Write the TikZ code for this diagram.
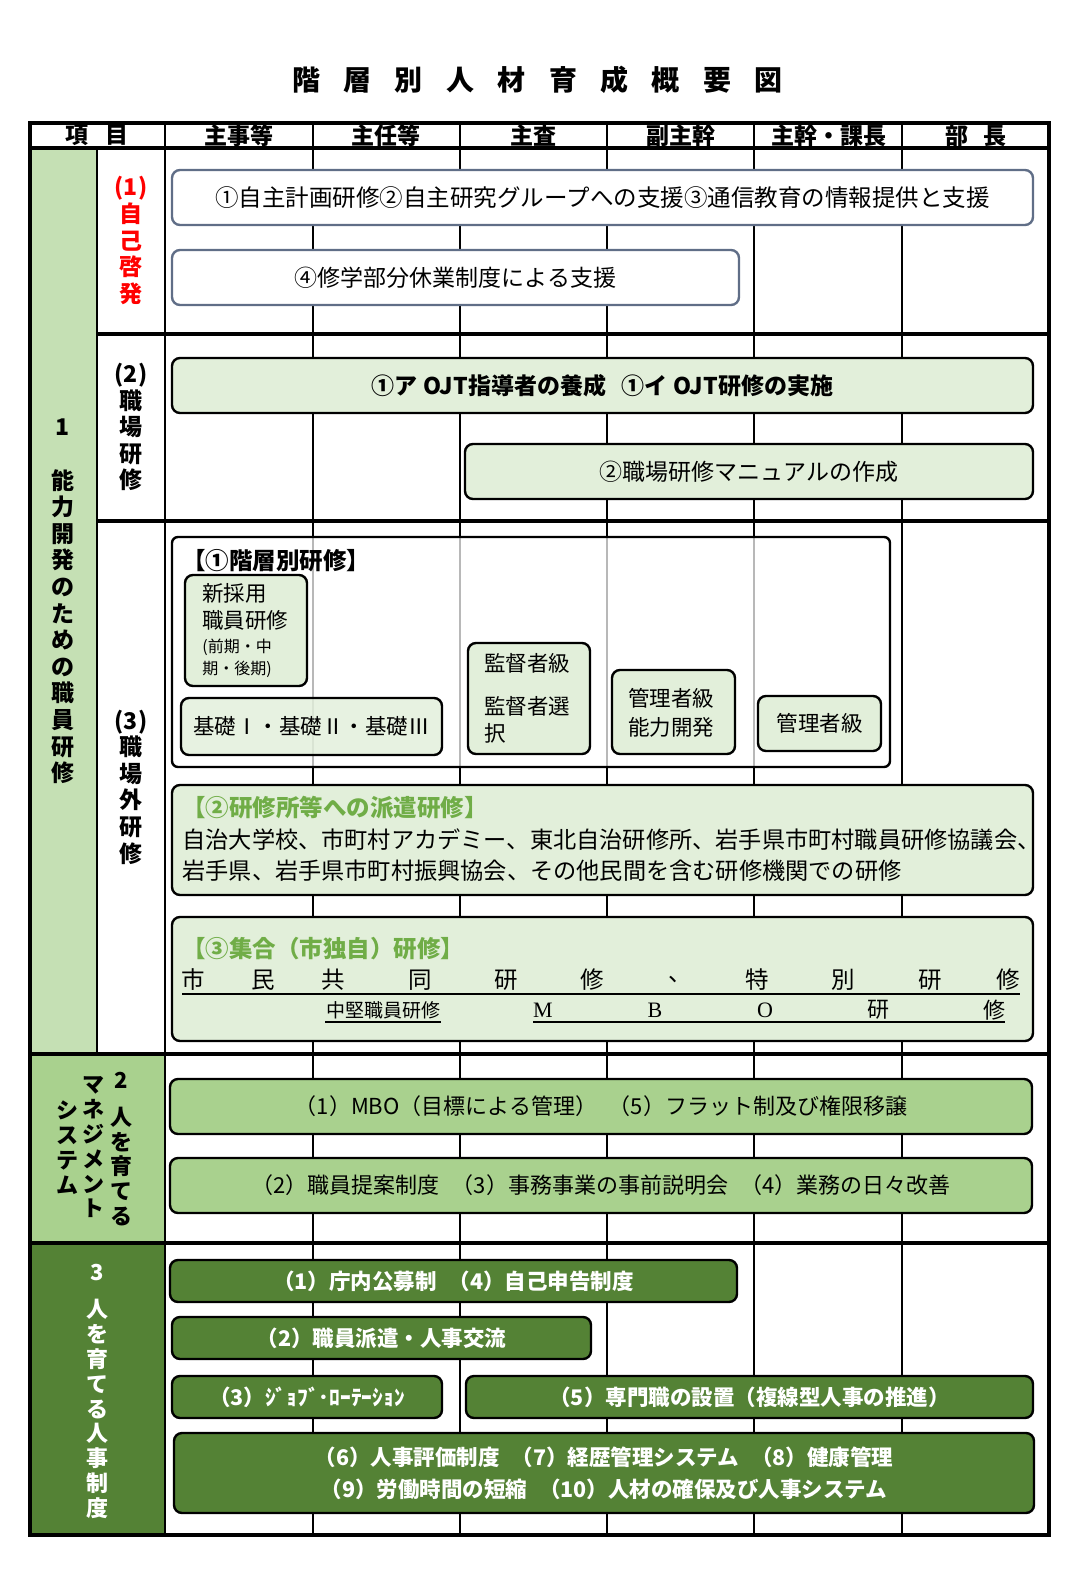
\documentclass[tikz,border=0pt]{standalone}
\usepackage{fontspec}
\setmainfont{Noto Sans CJK JP}
\newfontfamily\lser{Liberation Serif}
\definecolor{colA}{HTML}{C5E0B4}
\definecolor{boxlight}{HTML}{E2EFDA}
\definecolor{midg}{HTML}{A9D18E}
\definecolor{darkg}{HTML}{548235}
\definecolor{tgreen}{HTML}{70AD47}
\definecolor{bgray}{HTML}{606E87}
\tikzset{
  thickline/.style={line width=1.6pt},
  colline/.style={line width=1.1pt},
  boxbase/.style={rounded corners=4pt, line width=1.2pt, inner sep=0pt},
  wbox/.style={boxbase, draw=bgray, fill=white},
  gbox/.style={boxbase, draw=black, fill=boxlight},
  mbox/.style={boxbase, draw=black, fill=midg, font=\fontsize{11}{12}\selectfont},
  dbox/.style={boxbase, draw=black, fill=darkg, text=white, font=\fontsize{10.75}{16}\selectfont\bfseries, align=center},
  reg/.style={inner sep=0pt, font=\fontsize{11.75}{13}\selectfont},
  sml/.style={inner sep=0pt, font=\fontsize{10.75}{12}\selectfont},
  tiny/.style={inner sep=0pt, font=\fontsize{8}{9}\selectfont},
  hdr/.style={inner sep=0pt, font=\fontsize{11.5}{12}\selectfont\bfseries},
  vlab/.style={inner sep=0pt, align=center, font=\fontsize{11.5}{13.3}\selectfont\bfseries},
  vlab2/.style={inner sep=0pt, align=center, font=\fontsize{11}{12.4}\selectfont\bfseries},
  ttl/.style={inner sep=0pt, font=\fontsize{11.75}{13}\selectfont\bfseries},
}
\newcommand\tsp{\hspace{11.7pt}}
\begin{document}
\begin{tikzpicture}[x=0.5pt,y=-0.5pt]
\useasboundingbox (0,0) rectangle (1086,1571);
% title
\node[inner sep=0pt, font=\fontsize{14}{14}\selectfont\bfseries] (title) at (537.5,80)
  {階\tsp 層\tsp 別\tsp 人\tsp 材\tsp 育\tsp 成\tsp 概\tsp 要\tsp 図};
% fills of label columns
\fill[colA] (30,148) rectangle (97,1054);
\fill[midg] (30,1054) rectangle (165,1243);
\fill[darkg] (30,1243) rectangle (165,1535);
% grid
\foreach \xx in {313,460,607,754,902} \draw[colline] (\xx,123) -- (\xx,1535);
\draw[colline] (165,123) -- (165,1535);
\draw[colline] (97,148) -- (97,1054);
\draw[thickline] (30,148) -- (1049,148);
\draw[thickline] (97,334) -- (1049,334);
\draw[thickline] (97,521) -- (1049,521);
\draw[thickline] (30,1054) -- (1049,1054);
\draw[thickline] (30,1243) -- (1049,1243);
\draw[thickline] (30,123) rectangle (1049,1535);
% header
\node[hdr] (h0) at (97,135.5) {項\hspace{8.5pt}目};
\node[hdr] (h1) at (239,135.5) {主事等};
\node[hdr] (h2) at (386,135.5) {主任等};
\node[hdr] (h3) at (533,135.5) {主査};
\node[hdr] (h4) at (681,135.5) {副主幹};
\node[hdr] (h5) at (829,135.5) {主幹・課長};
\node[hdr] (h6) at (976,135.5) {部\hspace{8pt}長};
% left labels
\node[vlab] (s1) at (63,601.5) {1\\[13.3pt]能\\力\\開\\発\\の\\た\\め\\の\\職\\員\\研\\修};
\node[vlab, text=red] (s11) at (131,240.5) {(1)\\自\\己\\啓\\発};
\node[vlab] (s12) at (131,427) {(2)\\職\\場\\研\\修};
\node[vlab] (s13) at (131,787) {(3)\\職\\場\\外\\研\\修};
\node[vlab2] (s2n) at (121,1080) {2};
\node[vlab2] (s2a) at (121,1166.5) {人\\を\\育\\て\\る};
\node[vlab2] (s2b) at (94,1147.5) {マ\\ネ\\ジ\\メ\\ン\\ト};
\node[vlab2] (s2c) at (67,1147.5) {シ\\ス\\テ\\ム};
\node[vlab2, text=white] (s3n) at (97,1272) {3};
\node[vlab2, text=white] (s3a) at (97,1409) {人\\を\\育\\て\\る\\人\\事\\制\\度};
% (1) self development
\node[wbox, minimum width=430.5pt, minimum height=27.5pt, font=\fontsize{11.75}{13}\selectfont] (A) at (602.5,197.5)
  {①自主計画研修②自主研究グループへの支援③通信教育の情報提供と支援};
\node[wbox, minimum width=283.5pt, minimum height=27.5pt, font=\fontsize{11.5}{13}\selectfont] (B) at (455.5,277.5)
  {④修学部分休業制度による支援};
% (2) workplace training
\node[gbox, minimum width=430.5pt, minimum height=27.5pt, font=\fontsize{11.5}{13}\selectfont\bfseries] (C) at (602.5,385.5)
  {①ア OJT指導者の養成\hspace{8pt}①イ OJT研修の実施};
\node[gbox, minimum width=284pt, minimum height=27.5pt, font=\fontsize{11.5}{13}\selectfont] (D) at (749,471.5)
  {②職場研修マニュアルの作成};
% (3) off-JT
\node[boxbase, draw=black, fill=white, fill opacity=0.72, rounded corners=3pt, minimum width=359pt, minimum height=115pt] (P1) at (531,652) {};
\node[ttl] (P1t) at (182,561) [anchor=west] {【①階層別研修】};
\node[gbox, minimum width=61pt, minimum height=55.5pt] (b1) at (246,630.5) {};
\node[sml, anchor=west] (b1a) at (202,593) {新採用};
\node[sml, anchor=west] (b1b) at (202,620) {職員研修};
\node[tiny, anchor=west] (b1c) at (202,647) {(前期・中};
\node[tiny, anchor=west] (b1d) at (202,669) {期・後期)};
\node[gbox, fill opacity=0.8, text opacity=1, minimum width=130.5pt, minimum height=28.5pt, font=\fontsize{10.75}{12}\selectfont] (b2) at (311.5,726.5) {基礎Ⅰ・基礎Ⅱ・基礎Ⅲ};
\node[gbox, minimum width=61pt, minimum height=55.5pt] (b3) at (529,698.5) {};
\node[sml, anchor=west] (b3a) at (484,663) {監督者級};
\node[sml, anchor=west] (b3b) at (484,706) {監督者選};
\node[sml, anchor=west] (b3c) at (484,733) {択};
\node[gbox, minimum width=61.5pt, minimum height=42pt] (b4) at (673.5,712) {};
\node[sml, anchor=west] (b4a) at (628,698) {管理者級};
\node[sml, anchor=west] (b4b) at (628,727) {能力開発};
\node[gbox, minimum width=61.5pt, minimum height=27.5pt, font=\fontsize{10.75}{12}\selectfont] (b5) at (819.5,723.5) {管理者級};
% box 2
\node[gbox, minimum width=430.5pt, minimum height=55pt] (P2) at (602.5,840) {};
\node[ttl, text=tgreen, anchor=west] (P2t) at (182,808) {【②研修所等への派遣研修】};
\node[reg, anchor=west, font=\fontsize{11.6}{13}\selectfont] (P2a) at (182,840) {自治大学校、市町村アカデミー、東北自治研修所、岩手県市町村職員研修協議会、};
\node[reg, anchor=west, font=\fontsize{11.6}{13}\selectfont] (P2b) at (182,871) {岩手県、岩手県市町村振興協会、その他民間を含む研修機関での研修};
% box 3
\node[gbox, minimum width=430.5pt, minimum height=62pt] (P3) at (602.5,979) {};
\node[ttl, text=tgreen, anchor=west] (P3t) at (182,949) {【③集合（市独自）研修】};
\foreach \ch/\xx [count=\k] in {市/193,民/263,共/333,同/420,研/506,修/592,、/680,特/757,別/843,研/930,修/1008}
  \node[reg] (ra\k) at (\xx,980) {\ch};
\draw[line width=0.7pt] (182,994) -- (1020,994);
\node[inner sep=0pt, font=\fontsize{9.5}{10}\selectfont] (rb0) at (383,1010) {中堅職員研修};
\draw[line width=0.7pt] (325,1022) -- (441,1022);
\foreach \ch/\xx [count=\k] in {{\lser M}/543,{\lser B}/655,{\lser O}/765,研/878,修/994}
  \node[inner sep=0pt, font=\fontsize{11}{12}\selectfont] (rb\k) at (\xx,1010) {\ch};
\draw[line width=0.7pt] (533,1022) -- (1005,1022);
% section 2
\node[mbox, minimum width=431pt, minimum height=27.5pt] (E) at (601,1106.5)
  {（1）MBO（目標による管理）\hspace{6pt}（5）フラット制及び権限移譲};
\node[mbox, minimum width=431pt, minimum height=27.5pt] (F) at (601,1185.5)
  {（2）職員提案制度\hspace{6pt}（3）事務事業の事前説明会\hspace{6pt}（4）業務の日々改善};
% section 3
\node[dbox, minimum width=283.5pt, minimum height=21pt] (G) at (453.5,1281) {（1）庁内公募制\hspace{6pt}（4）自己申告制度};
\node[dbox, minimum width=209.5pt, minimum height=21pt] (H) at (381.5,1338) {（2）職員派遣・人事交流};
\node[dbox, minimum width=135pt, minimum height=21pt] (I) at (307,1397) {（3）ｼﾞｮﾌﾞ･ﾛｰﾃｰｼｮﾝ};
\node[dbox, minimum width=283.5pt, minimum height=21pt] (J) at (749.5,1397) {（5）専門職の設置（複線型人事の推進）};
\node[dbox, minimum width=430pt, minimum height=40pt] (K) at (604,1473)
  {（6）人事評価制度\hspace{6pt}（7）経歴管理システム\hspace{6pt}（8）健康管理\\（9）労働時間の短縮\hspace{6pt}（10）人材の確保及び人事システム};
\end{tikzpicture}
\end{document}
